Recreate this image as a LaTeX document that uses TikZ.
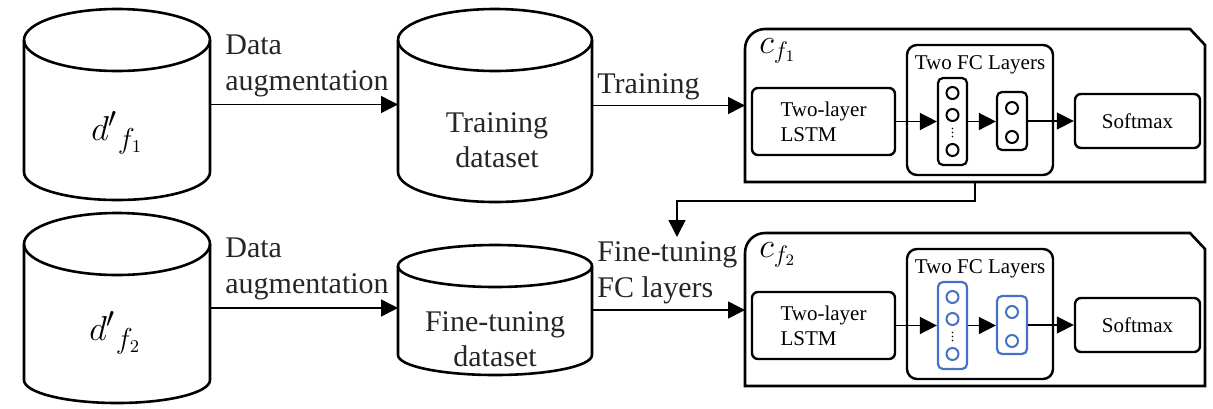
\documentclass[tikz,border=0pt]{standalone}
\usepackage{fontspec}
\setmainfont{Liberation Serif}
\usetikzlibrary{arrows.meta}
\definecolor{nnblue}{HTML}{4472C4}
\tikzset{
  cylline/.style={line width=1.3pt},
  arr/.style={line width=0.75pt,-{Triangle[length=8.5pt,width=8.5pt]}},
  lbl/.style={inner sep=0pt,align=left,anchor=west,text=black!85,font=\rmfamily\fontsize{15}{18}\selectfont},
  cyltext/.style={inner sep=0pt,align=center,text=black!85,font=\rmfamily\fontsize{15}{17.5}\selectfont},
  outerline/.style={line width=1.3pt},
  ibox/.style={draw,line width=1.2pt,rounded corners=3pt,inner sep=0pt},
  smalltxt/.style={font=\rmfamily\fontsize{10.5}{12.5}\selectfont},
  colbox/.style={draw,line width=1.1pt,rounded corners=2.5pt,inner sep=0pt},
  neuron/.style={circle,draw,line width=1pt,minimum size=6pt,inner sep=0pt},
  bbox/.style={inner sep=0pt,outer sep=0pt},
  mathlbl/.style={anchor=base west,inner sep=0pt},
}
% cylinder: #1 name, #2 cx, #3 rx, #4 top centre y, #5 top ry, #6 bottom centre y, #7 bottom ry
\newcommand\dbcyl[7]{%
  \draw[cylline] ({#2-#3},#4) -- ({#2-#3},#6)
     .. controls ({#2-#3},{#6+0.5523*#7}) and ({#2-0.5523*#3},{#6+#7}) .. (#2,{#6+#7})
     .. controls ({#2+0.5523*#3},{#6+#7}) and ({#2+#3},{#6+0.5523*#7}) .. ({#2+#3},#6)
     -- ({#2+#3},#4);
  \draw[cylline] (#2,#4) ellipse [x radius=#3, y radius=#5];
  \node[bbox,minimum width={#3*1pt},minimum height={(#6+#7-#4+#5)*0.5pt}] (#1) at (#2,{(#4-#5+#6+#7)/2}) {};
}
% classifier: #1 prefix, #2 y shift (px), #3 colour, #4 label
\newcommand\clf[4]{%
\begin{scope}[shift={(0,#2)}]
  \node[bbox,minimum width=230pt,minimum height=76.5pt] (#1box) at (975,105.5) {};
  \draw[outerline] ([xshift=-7.5pt]#1box.north east) -- ([yshift=-8pt]#1box.north east)
     -- (#1box.south east) -- (#1box.south west) -- ([yshift=-10pt]#1box.north west)
     .. controls ([yshift=-4.5pt]#1box.north west) and ([xshift=4.5pt]#1box.north west) .. ([xshift=10pt]#1box.north west)
     -- cycle;
  \node[mathlbl,font=\fontsize{17}{19}\selectfont] (#1lab) at (759,53) {$#4$};
  \node[ibox,smalltxt,align=left,minimum width=71.5pt,minimum height=33.5pt] (#1lstm) at (823.5,121.5) {Two-layer\\LSTM};
  \node[ibox,rounded corners=5pt,minimum width=73pt,minimum height=65pt] (#1fc) at (980,110) {};
  \node[smalltxt,anchor=base,inner sep=0pt] (#1fct) at (980,69) {Two FC Layers};
  \node[colbox,draw=#3,minimum width=14.5pt,minimum height=43.5pt] (#1ca) at (952.5,121.5) {};
  \node[neuron,draw=#3] (#1a1) at (952.5,93) {};
  \node[neuron,draw=#3] (#1a2) at (952.5,115) {};
  \node[neuron,draw=#3] (#1a3) at (952.5,150) {};
  \foreach \yy in {128.5,132.5,136.5} \fill (952.5,\yy) circle [radius=0.45pt];
  \node[colbox,draw=#3,minimum width=15pt,minimum height=29pt] (#1cb) at (1012,121) {};
  \node[neuron,draw=#3] (#1b1) at (1012,108) {};
  \node[neuron,draw=#3] (#1b2) at (1012,137) {};
  \node[ibox,smalltxt,minimum width=62.5pt,minimum height=27pt] (#1sm) at (1137.5,121) {Softmax};
  \draw[arr] (#1lstm.east) -- (#1lstm.east -| #1ca.west);
  \draw[arr] (#1ca.east) -- (#1ca.east -| #1cb.west);
  \draw[arr] (#1cb.east) -- (#1cb.east -| #1sm.west);
\end{scope}}

\begin{document}
\begin{tikzpicture}[x=0.5pt,y=-0.5pt]
  \useasboundingbox (0,0) rectangle (1213,408);
  % cylinders
  \dbcyl{d1}{117}{93}{40}{31}{172}{28}
  \dbcyl{td}{495}{97}{40}{31}{172}{30}
  \dbcyl{d2}{117}{93}{244}{31}{380}{23}
  \dbcyl{fd}{495}{97}{266}{21}{355}{20}
  \node[mathlbl,font=\fontsize{19}{22}\selectfont] (d1t) at (91,140) {${d'}_{f_1}$};
  \node[mathlbl,font=\fontsize{19}{22}\selectfont] (d2t) at (89,340) {${d'}_{f_2}$};
  \node[cyltext] (tdt) at (497,140.5) {Training\\dataset};
  \node[cyltext] (fdt) at (495,339) {Fine-tuning\\dataset};
  % classifiers
  \clf{ca}{0}{black}{c_{f_1}}
  \clf{cb}{204}{nnblue}{c_{f_2}}
  % labels
  \node[lbl] (l1) at (225,66) {Data\\augmentation};
  \node[lbl,anchor=base west] (l2) at (597,93) {Training};
  \node[lbl] (l3) at (225,268.7) {Data\\augmentation};
  \node[lbl] (l4) at (597,272.5) {Fine-tuning\\FC layers};
  % connectors
  \draw[arr] (d1.east) -- (d1.east -| td.west);
  \draw[arr] (td.east) -- (td.east -| cabox.west);
  \draw[arr] (d2.east) -- (d2.east -| fd.west);
  \draw[arr] (fd.east) -- (fd.east -| cbbox.west);
  \coordinate (ftip) at (677,237);
  \draw[arr] (cabox.south) -- ++(0,19) -| (ftip);
\end{tikzpicture}
\end{document}
